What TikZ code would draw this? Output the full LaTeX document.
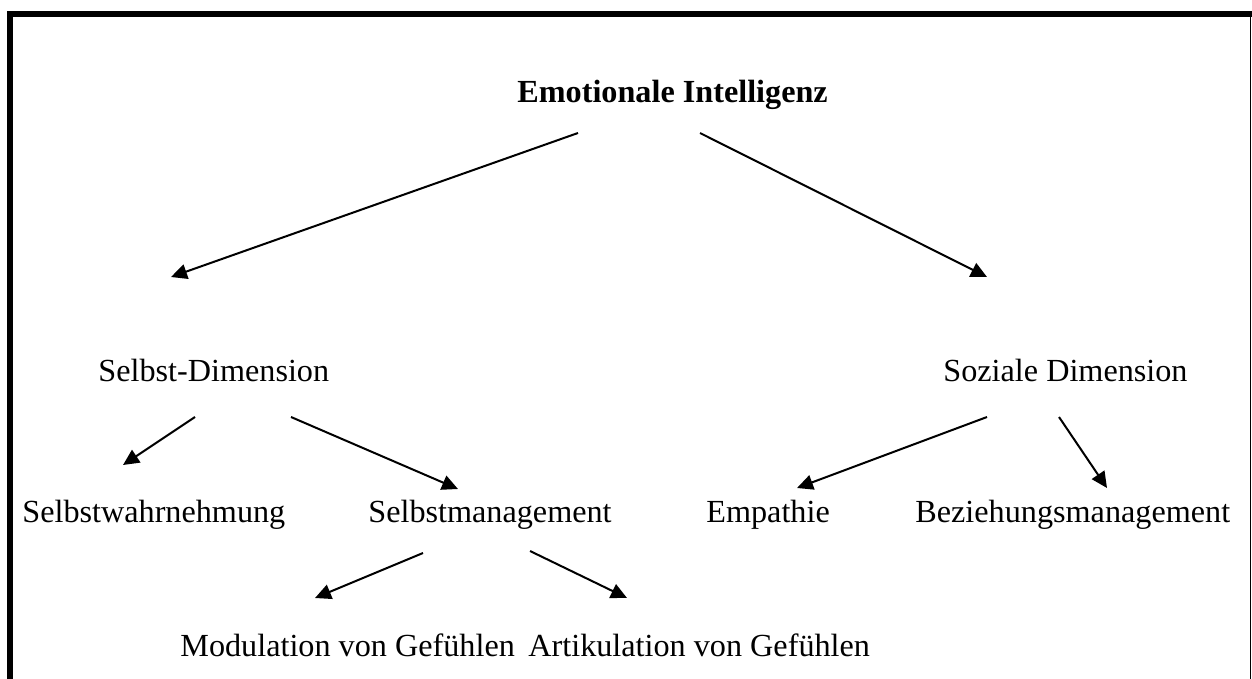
\documentclass[tikz,border=0pt]{standalone}
\usepackage{fontspec}
\setmainfont{Liberation Serif}
\usepackage{tikz}
\usetikzlibrary{arrows.meta, positioning, calc}

\begin{document}
\begin{tikzpicture}[
    x=0.5pt, y=-0.5pt,
    term/.style={inner sep=0pt, anchor=base west, font=\fontsize{16.1}{19}\selectfont},
    head/.style={term, font=\fontsize{16.1}{19}\selectfont\bfseries},
    arrow/.style={-{Triangle[length=8pt, width=7.5pt]}, line width=1pt}
]
\useasboundingbox (0,0) rectangle (1252,679);

% Frame (open at the bottom)
\draw[line width=2.85pt, line join=miter] (9.8,679) -- (9.8,13.8) -- (1252,13.8);
\draw[line width=0.5pt] (1250.7,16) -- (1250.7,679);

% Top
\node[head] (emo) at (517,103) {Emotionale Intelligenz};

% Dimensions
\node[term] (selbst) at (98,381) {Selbst-Dimension};
\node[term] (sozial) at (943,381) {Soziale Dimension};

% Competences
\node[term] (wahr) at (22,522) {Selbstwahrnehmung};
\node[term] (mgmt) at (368,522) {Selbstmanagement};
\node[term] (emp) at (706,522) {Empathie};
\node[term] (bez) at (915,522) {Beziehungsmanagement};

% Below Selbstmanagement
\node[term] (mod) at (180,656) {Modulation von Gefühlen};
\node[term] (art) at (528,656) {Artikulation von Gefühlen};

% Connections
\draw[arrow] ($(emo.base west)+(61,30)$) -- ($(selbst.base west)+(73,-104)$);
\draw[arrow] ($(emo.base west)+(183,30)$) -- ($(sozial.base west)+(44,-104)$);
\draw[arrow] ($(selbst.base west)+(97,36)$) -- ($(wahr.base west)+(101,-57)$);
\draw[arrow] ($(selbst.base west)+(193,36)$) -- ($(mgmt.base west)+(90,-33)$);
\draw[arrow] ($(sozial.base west)+(44,36)$) -- ($(emp.base west)+(91,-34)$);
\draw[arrow] ($(sozial.base west)+(116,36)$) -- ($(bez.base west)+(192,-34)$);
\draw[arrow] ($(mgmt.base west)+(55,31)$) -- ($(mod.base west)+(135,-58)$);
\draw[arrow] ($(mgmt.base west)+(162,29)$) -- ($(art.base west)+(99,-58)$);

\end{tikzpicture}
\end{document}
